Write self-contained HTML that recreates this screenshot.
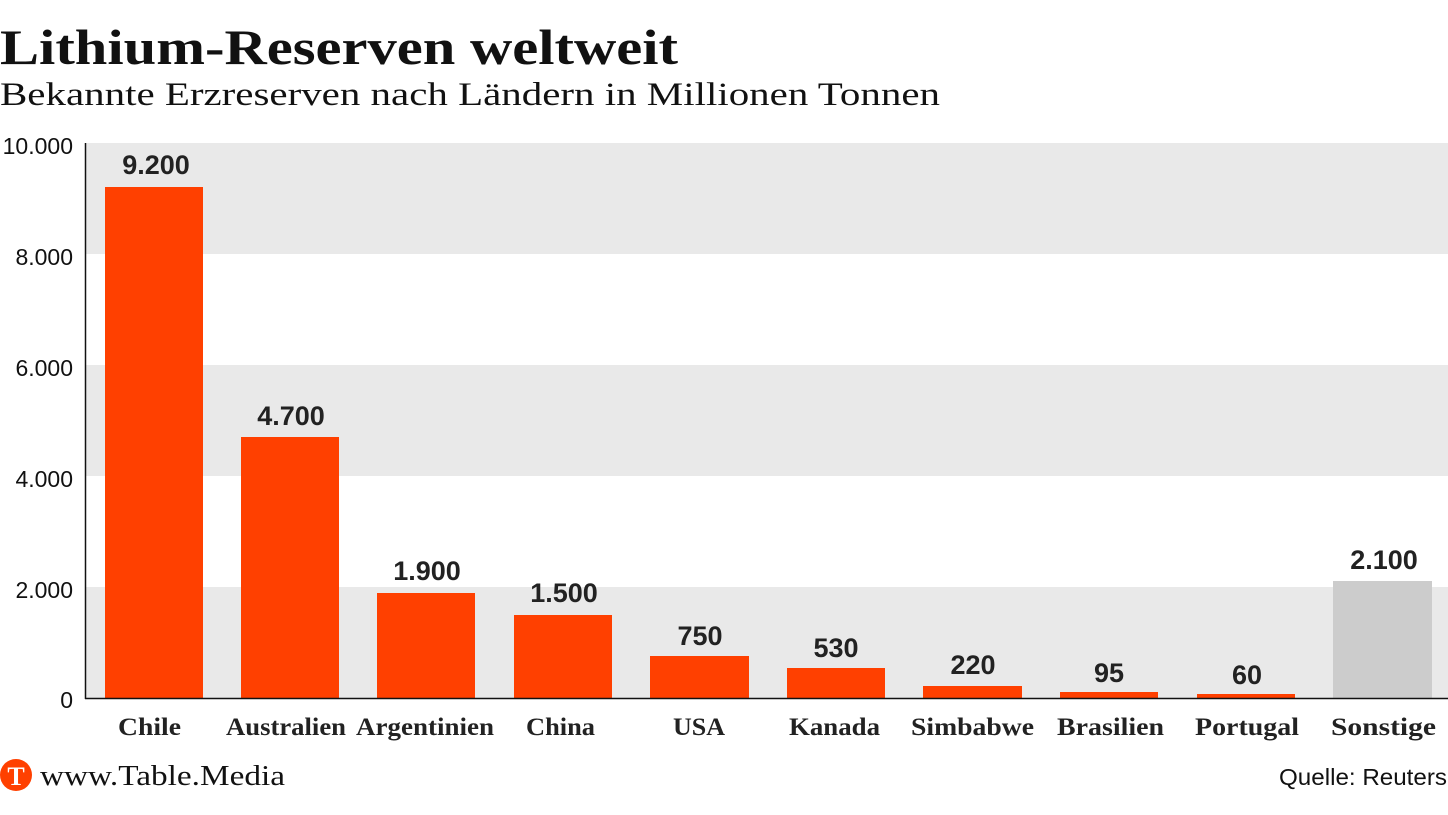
<!DOCTYPE html>
<html><head><meta charset="utf-8"><style>
html,body{margin:0;padding:0;background:#fff;width:1448px;height:815px;overflow:hidden}
</style></head><body>
<svg width="1448" height="815" xmlns="http://www.w3.org/2000/svg">
<rect width="1448" height="815" fill="#fff"/>
<text x="0" y="64" font-family="Liberation Serif, serif" font-weight="bold" font-size="50" fill="#111" textLength="678" lengthAdjust="spacingAndGlyphs">Lithium-Reserven weltweit</text>
<text x="0" y="105" font-family="Liberation Serif, serif" font-size="33" fill="#111" textLength="940" lengthAdjust="spacingAndGlyphs">Bekannte Erzreserven nach Ländern in Millionen Tonnen</text>
<rect x="85" y="143" width="1363" height="111" fill="#e9e9e9"/>
<rect x="85" y="365" width="1363" height="111" fill="#e9e9e9"/>
<rect x="85" y="587" width="1363" height="111" fill="#e9e9e9"/>
<g font-family="Liberation Sans, sans-serif" font-size="23" fill="#111" text-anchor="end">
<text x="73" y="154">10.000</text>
<text x="73" y="265">8.000</text>
<text x="73" y="376">6.000</text>
<text x="73" y="487">4.000</text>
<text x="73" y="598">2.000</text>
<text x="73" y="708">0</text>
</g>
<g fill="#ff4000">
<rect x="105" y="187" width="98" height="511"/>
<rect x="241" y="437" width="98" height="261"/>
<rect x="377" y="593" width="98" height="105"/>
<rect x="514" y="615" width="98" height="83"/>
<rect x="650" y="656" width="99" height="42"/>
<rect x="787" y="668" width="98" height="30"/>
<rect x="923" y="686" width="99" height="12"/>
<rect x="1060" y="692" width="98" height="6"/>
<rect x="1197" y="694" width="98" height="4"/>
</g>
<rect x="1333" y="581" width="99" height="117" fill="#cccccc"/>
<line x1="85.5" y1="143" x2="85.5" y2="699" stroke="#111" stroke-width="1.5"/>
<line x1="85" y1="698.5" x2="1448" y2="698.5" stroke="#111" stroke-width="1.5"/>
<g font-family="Liberation Sans, sans-serif" font-weight="bold" font-size="27" fill="#222" text-anchor="middle">
<text x="156" y="174">9.200</text>
<text x="291" y="425">4.700</text>
<text x="427" y="580">1.900</text>
<text x="564" y="602">1.500</text>
<text x="700" y="645">750</text>
<text x="836" y="657">530</text>
<text x="973" y="674">220</text>
<text x="1109" y="682">95</text>
<text x="1247" y="684">60</text>
<text x="1384" y="569">2.100</text>
</g>
<g font-family="Liberation Serif, serif" font-weight="bold" font-size="25" fill="#222">
<text x="118" y="735" textLength="63" lengthAdjust="spacingAndGlyphs">Chile</text>
<text x="226" y="735" textLength="120" lengthAdjust="spacingAndGlyphs">Australien</text>
<text x="356" y="735" textLength="138" lengthAdjust="spacingAndGlyphs">Argentinien</text>
<text x="526" y="735" textLength="69" lengthAdjust="spacingAndGlyphs">China</text>
<text x="673" y="735" textLength="52" lengthAdjust="spacingAndGlyphs">USA</text>
<text x="789" y="735" textLength="91" lengthAdjust="spacingAndGlyphs">Kanada</text>
<text x="911" y="735" textLength="123" lengthAdjust="spacingAndGlyphs">Simbabwe</text>
<text x="1057" y="735" textLength="107" lengthAdjust="spacingAndGlyphs">Brasilien</text>
<text x="1195" y="735" textLength="104" lengthAdjust="spacingAndGlyphs">Portugal</text>
<text x="1331" y="735" textLength="105" lengthAdjust="spacingAndGlyphs">Sonstige</text>
</g>
<circle cx="16" cy="775" r="16" fill="#ff4000"/>
<text x="16" y="785" font-family="Liberation Serif, serif" font-weight="bold" font-size="26" fill="#fff" text-anchor="middle">T</text>
<text x="40" y="785" font-family="Liberation Serif, serif" font-size="29" fill="#111" textLength="245" lengthAdjust="spacingAndGlyphs">www.Table.Media</text>
<text x="1279" y="785" font-family="Liberation Sans, sans-serif" font-size="23" fill="#111" textLength="168" lengthAdjust="spacingAndGlyphs">Quelle: Reuters</text>
</svg>
</body></html>
